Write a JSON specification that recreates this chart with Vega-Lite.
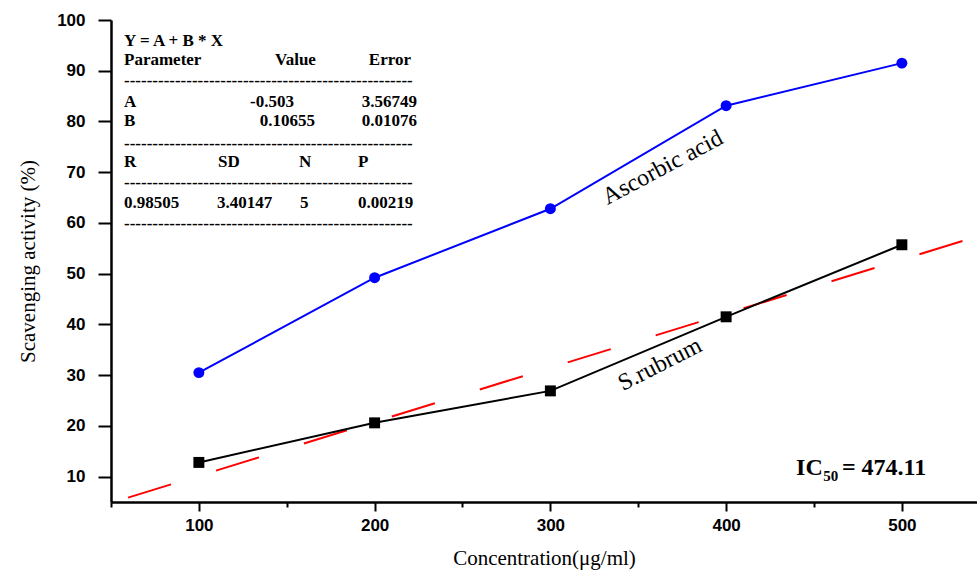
{
  "$schema": "https://vega.github.io/schema/vega-lite/v6.json",
  "autosize": {"type": "none"},
  "padding": {"left": 111, "top": 20, "right": 0, "bottom": 69},
  "width": 866,
  "height": 482,
  "background": "white",
  "config": {
    "view": {"stroke": null},
    "axis": {"grid": false, "domainColor": "black", "domainWidth": 2.5, "tickColor": "black", "tickWidth": 2,
             "labelFont": "Liberation Sans", "labelFontWeight": "bold", "labelFontSize": 17, "labelColor": "black",
             "titleFont": "Liberation Serif", "titleFontWeight": "normal", "titleFontSize": 21, "titleColor": "black"}
  },
  "datasets": {
    "series": [
      {"conc": 100, "activity": 30.5, "sample": "Ascorbic acid"},
      {"conc": 200, "activity": 49.2, "sample": "Ascorbic acid"},
      {"conc": 300, "activity": 62.8, "sample": "Ascorbic acid"},
      {"conc": 400, "activity": 83.1, "sample": "Ascorbic acid"},
      {"conc": 500, "activity": 91.5, "sample": "Ascorbic acid"},
      {"conc": 100, "activity": 12.8, "sample": "S.rubrum"},
      {"conc": 200, "activity": 20.6, "sample": "S.rubrum"},
      {"conc": 300, "activity": 26.9, "sample": "S.rubrum"},
      {"conc": 400, "activity": 41.5, "sample": "S.rubrum"},
      {"conc": 500, "activity": 55.7, "sample": "S.rubrum"}
    ],
    "fit": [
      {"conc": 59.7, "activity": 5.86},
      {"conc": 542.75, "activity": 57.33}
    ],
    "tableLeft": [
      {"t": "Y = A + B * X", "x": 57.4, "y": 95.92},
      {"t": "Parameter", "x": 57.4, "y": 92.12},
      {"t": "---------------------------------------------------", "x": 57.4, "y": 88.05},
      {"t": "A", "x": 57.4, "y": 83.91},
      {"t": "B", "x": 57.4, "y": 80.17},
      {"t": "---------------------------------------------------", "x": 57.4, "y": 75.58},
      {"t": "R", "x": 57.4, "y": 72.04},
      {"t": "SD", "x": 110.9, "y": 72.04},
      {"t": "N", "x": 157.0, "y": 72.04},
      {"t": "P", "x": 190.5, "y": 72.04},
      {"t": "---------------------------------------------------", "x": 57.4, "y": 67.96},
      {"t": "0.98505", "x": 57.4, "y": 64.02},
      {"t": "3.40147", "x": 110.3, "y": 64.02},
      {"t": "5", "x": 157.5, "y": 64.02},
      {"t": "---------------------------------------------------", "x": 57.4, "y": 59.83}
    ],
    "tableRight": [
      {"t": "Value", "x": 166.6, "y": 92.12},
      {"t": "Error", "x": 220.7, "y": 92.12},
      {"t": "-0.503", "x": 154.1, "y": 83.91},
      {"t": "3.56749", "x": 224.1, "y": 83.91},
      {"t": "0.10655", "x": 166.1, "y": 80.17},
      {"t": "0.01076", "x": 224.1, "y": 80.17},
      {"t": "0.00219", "x": 222.0, "y": 64.02}
    ],
    "labels": [
      {"t": "Ascorbic acid", "x": 364, "y": 70.9, "angle": -28},
      {"t": "S.rubrum", "x": 362.4, "y": 32.1, "angle": -27}
    ],
    "icMain": [
      {"t": "IC", "x": 439.8, "y": 10.4},
      {"t": "= 474.11", "x": 465.9, "y": 10.4}
    ],
    "icSub": [
      {"t": "50", "x": 455.2, "y": 9.22}
    ]
  },
  "layer": [
    {
      "data": {"name": "series"},
      "transform": [{"filter": "datum.sample === 'Ascorbic acid'"}],
      "mark": {"type": "line", "color": "#0000FF", "strokeWidth": 2},
      "encoding": {
        "x": {"field": "conc", "type": "quantitative",
              "scale": {"domain": [50, 542.75], "nice": false, "zero": false},
              "axis": {"values": [50, 100, 150, 200, 250, 300, 350, 400, 450, 500],
                       "labelExpr": "datum.value % 100 === 0 ? datum.label : ''",
                       "tickSize": {"condition": {"test": "datum.value % 100 === 0", "value": 9}, "value": 5},
                       "labelPadding": 6, "labelFlush": false,
                       "title": "Concentration(μg/ml)", "titlePadding": 14}},
        "y": {"field": "activity", "type": "quantitative",
              "scale": {"domain": [5, 100], "nice": false, "zero": false},
              "axis": {"values": [10, 15, 20, 25, 30, 35, 40, 45, 50, 55, 60, 65, 70, 75, 80, 85, 90, 95, 100],
                       "labelExpr": "datum.value % 10 === 0 ? datum.label : ''",
                       "tickSize": {"condition": {"test": "datum.value % 10 === 0", "value": 13}, "value": 7},
                       "labelPadding": 13, "labelFlush": false,
                       "title": "Scavenging activity (%)", "titlePadding": 18}}
      }
    },
    {
      "data": {"name": "series"},
      "transform": [{"filter": "datum.sample === 'Ascorbic acid'"}],
      "mark": {"type": "point", "shape": "circle", "filled": true, "color": "#0000FF", "size": 120, "opacity": 1},
      "encoding": {
        "x": {"field": "conc", "type": "quantitative"},
        "y": {"field": "activity", "type": "quantitative"}
      }
    },
    {
      "data": {"name": "fit"},
      "mark": {"type": "line", "color": "#FF0000", "strokeWidth": 2, "strokeDash": [45, 47]},
      "encoding": {
        "x": {"field": "conc", "type": "quantitative"},
        "y": {"field": "activity", "type": "quantitative"}
      }
    },
    {
      "data": {"name": "series"},
      "transform": [{"filter": "datum.sample === 'S.rubrum'"}],
      "mark": {"type": "line", "color": "black", "strokeWidth": 2},
      "encoding": {
        "x": {"field": "conc", "type": "quantitative"},
        "y": {"field": "activity", "type": "quantitative"}
      }
    },
    {
      "data": {"name": "series"},
      "transform": [{"filter": "datum.sample === 'S.rubrum'"}],
      "mark": {"type": "point", "shape": "square", "filled": true, "color": "black", "size": 120, "opacity": 1},
      "encoding": {
        "x": {"field": "conc", "type": "quantitative"},
        "y": {"field": "activity", "type": "quantitative"}
      }
    },
    {
      "mark": {"type": "rule", "color": "black", "strokeWidth": 2.5},
      "encoding": {"y": {"datum": 100}}
    },
    {
      "data": {"name": "tableLeft"},
      "mark": {"type": "text", "align": "left", "baseline": "middle", "font": "Liberation Serif", "fontWeight": "bold", "fontSize": 17, "color": "black"},
      "encoding": {
        "x": {"field": "x", "type": "quantitative"},
        "y": {"field": "y", "type": "quantitative"},
        "text": {"field": "t"}
      }
    },
    {
      "data": {"name": "tableRight"},
      "mark": {"type": "text", "align": "right", "baseline": "middle", "font": "Liberation Serif", "fontWeight": "bold", "fontSize": 17, "color": "black"},
      "encoding": {
        "x": {"field": "x", "type": "quantitative"},
        "y": {"field": "y", "type": "quantitative"},
        "text": {"field": "t"}
      }
    },
    {
      "data": {"name": "labels"},
      "mark": {"type": "text", "align": "center", "baseline": "middle", "font": "Liberation Serif", "fontSize": 24, "color": "black"},
      "encoding": {
        "x": {"field": "x", "type": "quantitative"},
        "y": {"field": "y", "type": "quantitative"},
        "text": {"field": "t"},
        "angle": {"field": "angle", "type": "quantitative", "scale": null}
      }
    },
    {
      "data": {"name": "icMain"},
      "mark": {"type": "text", "align": "left", "baseline": "alphabetic", "font": "Liberation Serif", "fontWeight": "bold", "fontSize": 24, "color": "black"},
      "encoding": {
        "x": {"field": "x", "type": "quantitative"},
        "y": {"field": "y", "type": "quantitative"},
        "text": {"field": "t"}
      }
    },
    {
      "data": {"name": "icSub"},
      "mark": {"type": "text", "align": "left", "baseline": "alphabetic", "font": "Liberation Serif", "fontWeight": "bold", "fontSize": 15, "color": "black"},
      "encoding": {
        "x": {"field": "x", "type": "quantitative"},
        "y": {"field": "y", "type": "quantitative"},
        "text": {"field": "t"}
      }
    }
  ]
}
